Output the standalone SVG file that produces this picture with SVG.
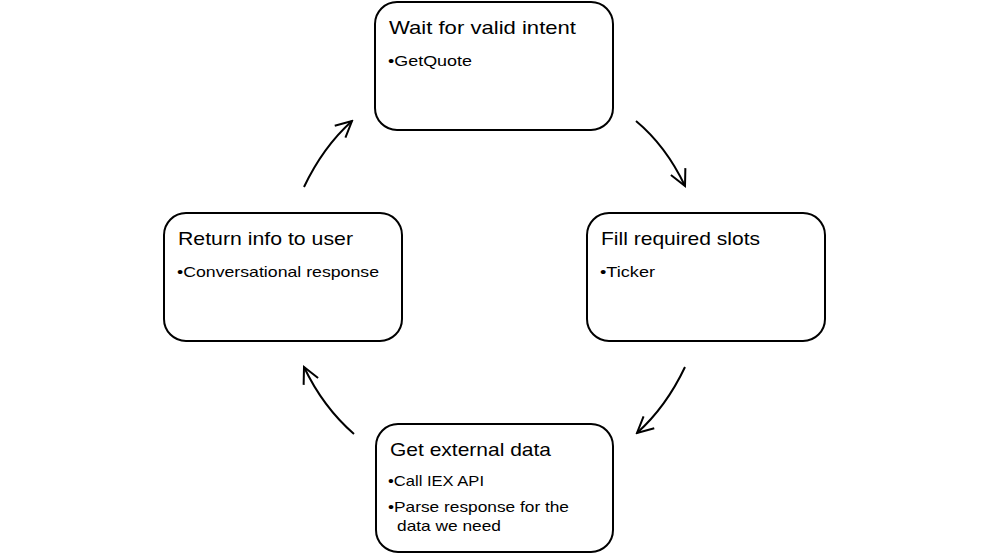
<svg xmlns="http://www.w3.org/2000/svg" width="989" height="554" viewBox="0 0 989 554">
<defs>
<style>
.box{fill:#fff;stroke:#000;stroke-width:2}
.t{font-family:"Liberation Sans",Arial,sans-serif;font-size:19px;fill:#000}
.b{font-family:"Liberation Sans",Arial,sans-serif;font-size:15px;fill:#000}
.c{fill:none;stroke:#000;stroke-width:2}
</style>
<marker id="ah" viewBox="0 0 20 20" refX="18" refY="10" markerWidth="20" markerHeight="20" markerUnits="userSpaceOnUse" orient="auto">
<path d="M2,2 L18,10 L2,18" fill="none" stroke="#000" stroke-width="2"/>
</marker>
</defs>
<rect width="989" height="554" fill="#fff"/>
<g id="node-wait">
<rect class="box" x="375" y="2" width="238" height="128" rx="22"/>
<text class="t" x="389" y="34" textLength="187" lengthAdjust="spacingAndGlyphs">Wait for valid intent</text>
<text class="b" x="388" y="66" textLength="84" lengthAdjust="spacingAndGlyphs">•GetQuote</text>
</g>
<g id="node-fill">
<rect class="box" x="587" y="213" width="238" height="128" rx="22"/>
<text class="t" x="601" y="245" textLength="159" lengthAdjust="spacingAndGlyphs">Fill required slots</text>
<text class="b" x="600" y="277" textLength="55" lengthAdjust="spacingAndGlyphs">•Ticker</text>
</g>
<g id="node-get">
<rect class="box" x="376" y="424" width="237" height="128" rx="22"/>
<text class="t" x="390" y="456" textLength="161" lengthAdjust="spacingAndGlyphs">Get external data</text>
<text class="b" x="388" y="486" textLength="96" lengthAdjust="spacingAndGlyphs">•Call IEX API</text>
<text class="b" x="388" y="512" textLength="181" lengthAdjust="spacingAndGlyphs">•Parse response for the</text>
<text class="b" x="397" y="531" textLength="104" lengthAdjust="spacingAndGlyphs">data we need</text>
</g>
<g id="node-return">
<rect class="box" x="164" y="213" width="238" height="128" rx="22"/>
<text class="t" x="178" y="245" textLength="175" lengthAdjust="spacingAndGlyphs">Return info to user</text>
<text class="b" x="177" y="277" textLength="202" lengthAdjust="spacingAndGlyphs">•Conversational response</text>
</g>
<g id="connectors">
<path class="c" d="M636,121 Q666,146 685,186" marker-end="url(#ah)"/>
<path class="c" d="M685,367 Q666,407 637,433" marker-end="url(#ah)"/>
<path class="c" d="M354,434 Q323,407 304,367" marker-end="url(#ah)"/>
<path class="c" d="M304,187 Q323,147 352,121" marker-end="url(#ah)"/>
</g>
</svg>
